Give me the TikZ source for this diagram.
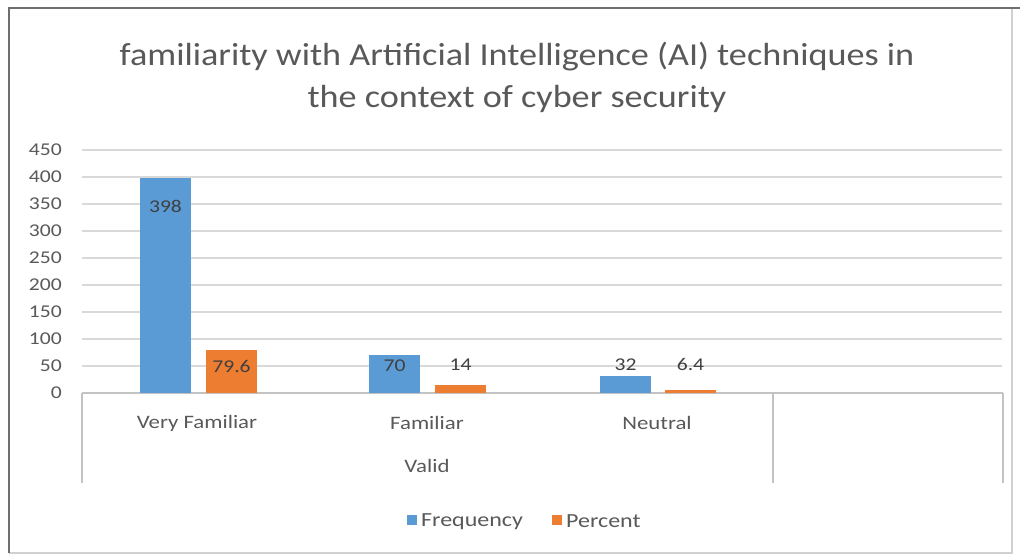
\documentclass[tikz,border=0pt]{standalone}
\usepackage{fontspec}
\setmainfont{Carlito}
\newfontfamily\lblfont{Carlito}[FakeStretch=1.2]
\newfontfamily\ttlfont{Carlito}[FakeStretch=1.13]
\definecolor{barblue}{HTML}{5B9BD5}
\definecolor{barorange}{HTML}{ED7D31}
\definecolor{txtgray}{HTML}{595959}
\definecolor{lbldark}{HTML}{404040}
\definecolor{gridgray}{HTML}{D9D9D9}
\definecolor{framedark}{HTML}{6E6E6E}
\definecolor{framelight}{HTML}{D0D0D0}
\tikzset{
  ticklbl/.style={anchor=east, inner sep=0pt, text=txtgray, font=\lblfont\fontsize{18}{20}\selectfont},
  catlbl/.style={inner sep=0pt, text=txtgray, font=\lblfont\fontsize{19}{22}\selectfont},
  datalbl/.style={inner sep=0pt, text=lbldark, font=\lblfont\fontsize{18}{20}\selectfont},
  legendtxt/.style={anchor=west, inner sep=0pt, text=txtgray, font=\lblfont\fontsize{20}{22}\selectfont},
  gridline/.style={draw=gridgray, line width=1.3pt},
  axisline/.style={draw=gridgray!90!black, line width=1.3pt},
  bluebar/.style={fill=barblue},
  orangebar/.style={fill=barorange},
}
\begin{document}
\begin{tikzpicture}[x=1pt,y=-1pt]
\useasboundingbox (0,0) rectangle (1020,554);
\fill[white] (0,0) rectangle (1020,554);
% frame
\draw[framelight, line width=1.2pt] (1012,8) -- (1012,553) -- (9,553);
\draw[framedark, line width=2.5pt] (9,553) -- (9,8) -- (1020,8);
% title
\node[text=txtgray, font=\ttlfont\fontsize{32}{42}\selectfont, align=center, inner sep=0pt] (title) at (517,77)
  {familiarity with Artificial Intelligence (AI) techniques in\\the context of cyber security};
% gridlines and tick labels
\foreach \v in {50,100,...,450} {
  \draw[gridline] (82,{393-0.54*\v}) -- (1002,{393-0.54*\v});
}
\foreach \v in {0,50,100,...,450} {
  \node[ticklbl] (tick\v) at (62,{393-0.54*\v}) {\v};
}
% category axis
\draw[axisline] (82,393) -- (1003,393);
\draw[axisline] (82,393) -- (82,483);
\draw[axisline] (773,393) -- (773,483);
\draw[axisline] (1003,393) -- (1003,483);
% bars
\path[bluebar] (140,393) rectangle (191,{393-0.54*398});
\path[orangebar] (206,393) rectangle (257,{393-0.54*79.6});
\path[bluebar] (369,393) rectangle (420,{393-0.54*70});
\path[orangebar] (435,393) rectangle (486,{393-0.54*14});
\path[bluebar] (600,393) rectangle (651,{393-0.54*32});
\path[orangebar] (665,393) rectangle (716,{393-0.54*6.4});
% data labels
\node[datalbl] (d1) at (165.5,206) {398};
\node[datalbl] (d2) at (231.5,366) {79.6};
\node[datalbl] (d3) at (394.5,366) {70};
\node[datalbl] (d4) at (460.5,365) {14};
\node[datalbl] (d5) at (625.5,365) {32};
\node[datalbl] (d6) at (690.5,364) {6.4};
% category labels
\node[catlbl] (c1) at (197,423) {Very Familiar};
\node[catlbl] (c2) at (427,423) {Familiar};
\node[catlbl] (c3) at (657,423) {Neutral};
\node[catlbl] (grp) at (427,466) {Valid};
% legend
\node[fill=barblue, minimum size=10pt, inner sep=0pt] (lb) at (412,520) {};
\node[legendtxt] (lbt) at (421,521.5) {Frequency};
\node[fill=barorange, minimum size=10pt, inner sep=0pt] (lo) at (557,520) {};
\node[legendtxt] (lot) at (566,521.5) {Percent};
\end{tikzpicture}
\end{document}
